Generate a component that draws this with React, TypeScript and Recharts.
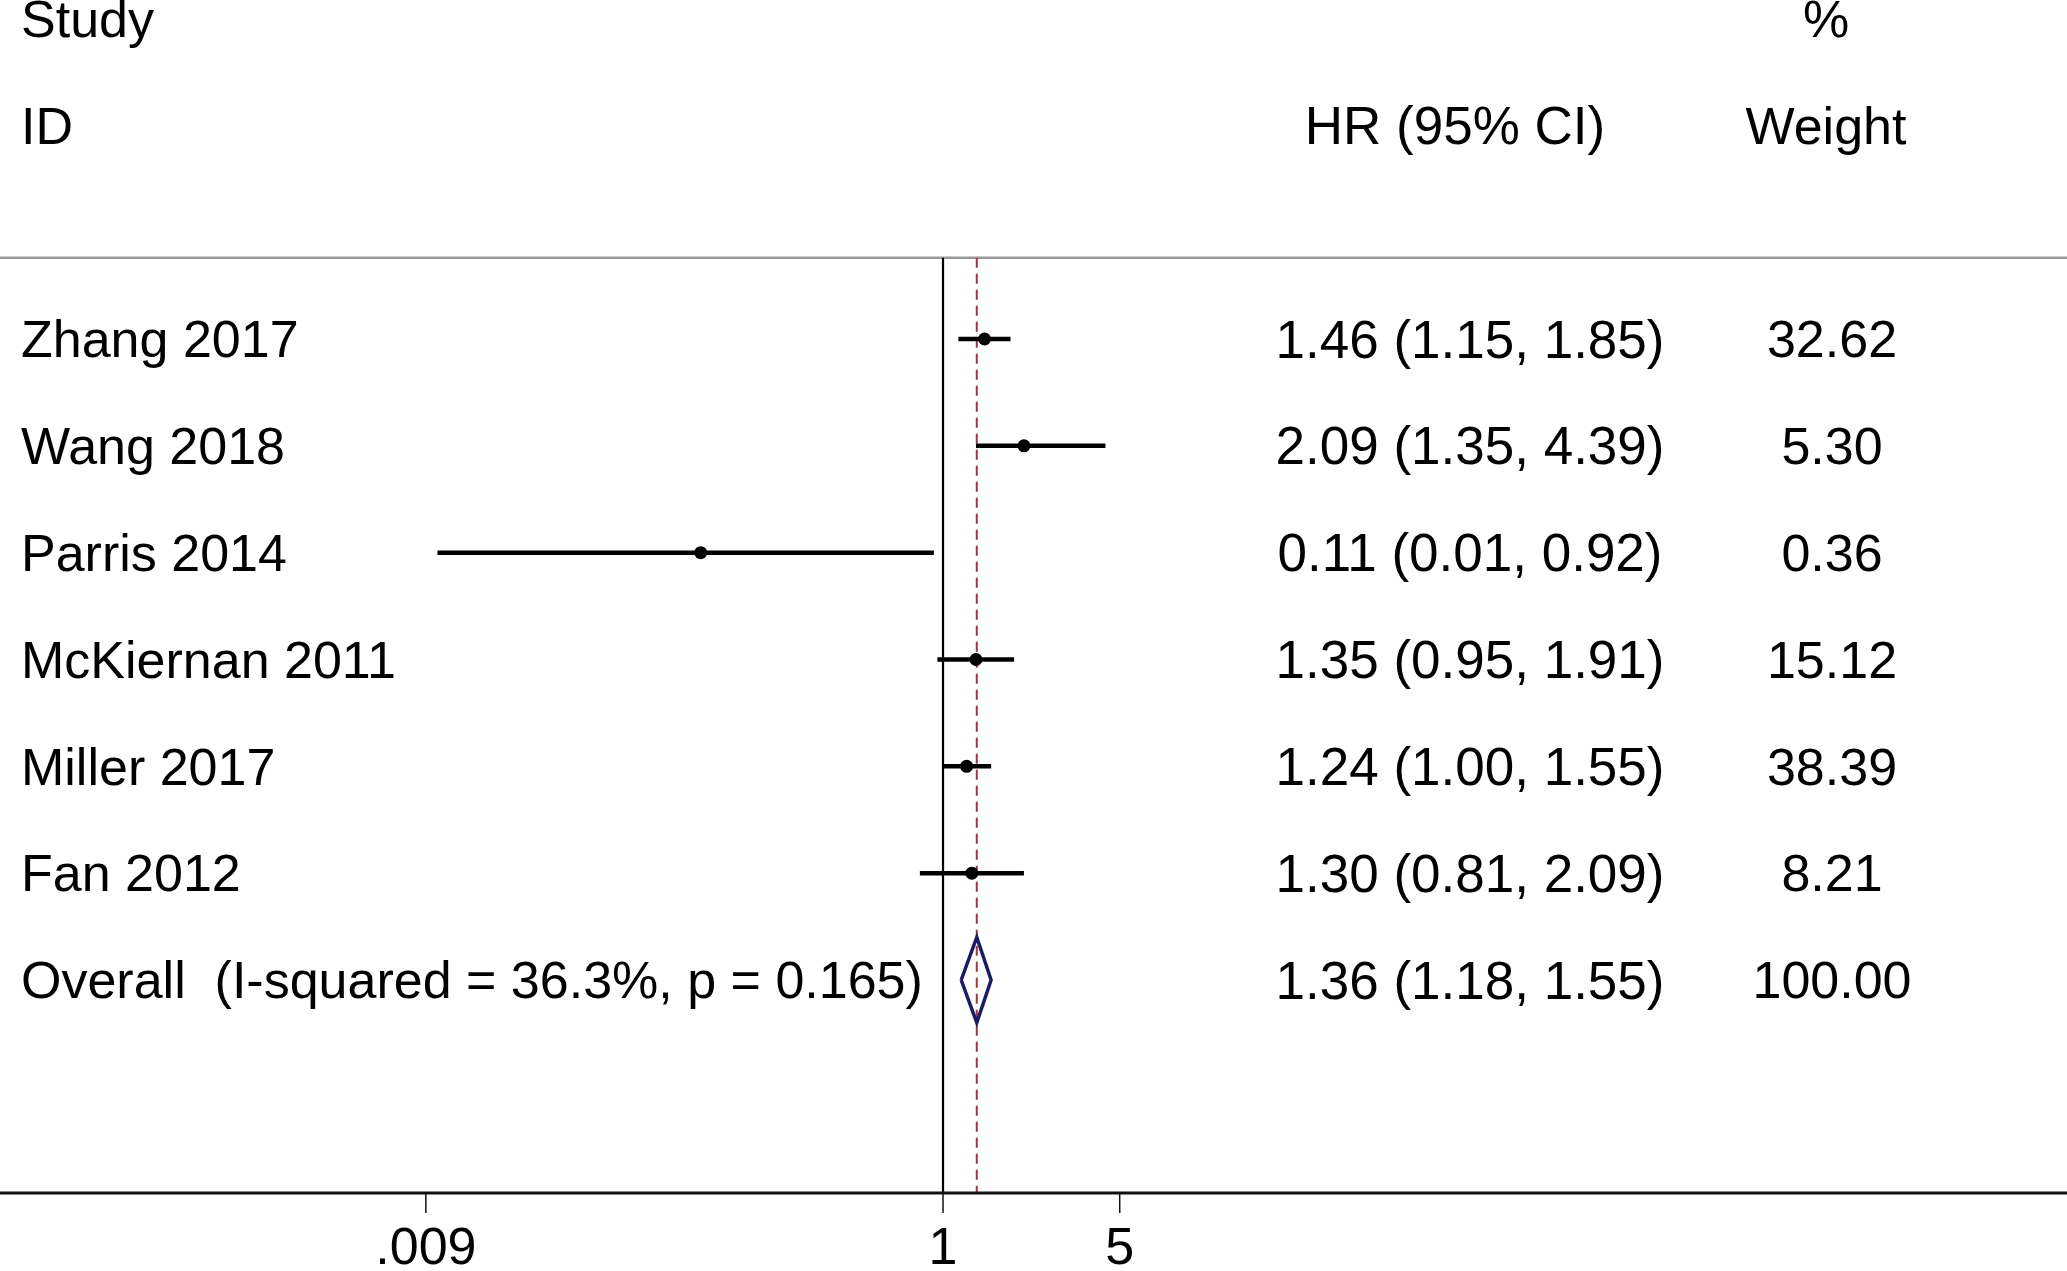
import React from 'react';
import {
  ComposedChart,
  ReferenceLine,
  Scatter,
  XAxis,
  YAxis,
} from 'recharts';

// Forest plot: hazard ratios of six studies plus the pooled estimate.
const STUDIES = ['Zhang 2017', 'Wang 2018', 'Parris 2014', 'McKiernan 2011', 'Miller 2017', 'Fan 2012'];
const HR = [1.46, 2.09, 0.11, 1.35, 1.24, 1.3];
const CI_LOW = [1.15, 1.35, 0.01, 0.95, 1.0, 0.81];
const CI_HIGH = [1.85, 4.39, 0.92, 1.91, 1.55, 2.09];
const WEIGHTS = ['32.62', '5.30', '0.36', '15.12', '38.39', '8.21'];

const OVERALL_LABEL = 'Overall  (I-squared = 36.3%, p = 0.165)';
const OVERALL_HR = 1.36;
const OVERALL_LOW = 1.18;
const OVERALL_HIGH = 1.55;
const OVERALL_WEIGHT = '100.00';

const X_TICKS = [0.009, 1, 5];
const X_TICK_LABELS = ['.009', '1', '5'];

const W = 2067;
const H = 1271;
const FONT = '"Liberation Sans", Arial, sans-serif';
const FS = 52;

// row index scale (0 = first study); header rows sit at -3 and -2
const ROW_MIN = -3.173;
const ROW_MAX = 7.994;
const RULE_ROW = -0.76;
const X_MIN = 0.000186;
const X_MAX = 27950;

const COL_STUDY = 21;
const COL_HR = 1470;
const COL_HR_HEAD = 1455;
const COL_WT = 1832;
const COL_WT_HEAD = 1826;

const fmt = (v: number) => v.toFixed(2);

const studyData = STUDIES.map((name, i) => ({ name, row: i, hr: HR[i] }));
const ciSegments = STUDIES.map((_, i) => [
  { hr: CI_LOW[i], row: i },
  { hr: CI_HIGH[i], row: i },
]);

const overallRow = STUDIES.length;
const diamondData = [
  { hr: OVERALL_LOW, row: overallRow },
  { hr: OVERALL_HR, row: overallRow - 0.4 },
  { hr: OVERALL_HIGH, row: overallRow },
  { hr: OVERALL_HR, row: overallRow + 0.4 },
  { hr: OVERALL_LOW, row: overallRow },
];

const rowTexts = (value: number) => {
  if (value === -3) return { left: 'Study', hr: '', wt: '%', hrX: COL_HR_HEAD, wtX: COL_WT_HEAD };
  if (value === -2) return { left: 'ID', hr: 'HR (95% CI)', wt: 'Weight', hrX: COL_HR_HEAD, wtX: COL_WT_HEAD };
  if (value === overallRow) {
    return {
      left: OVERALL_LABEL,
      hr: `${fmt(OVERALL_HR)} (${fmt(OVERALL_LOW)}, ${fmt(OVERALL_HIGH)})`,
      wt: OVERALL_WEIGHT,
      hrX: COL_HR,
      wtX: COL_WT,
    };
  }
  const i = Math.round(value);
  return {
    left: STUDIES[i] ?? '',
    hr: HR[i] !== undefined ? `${fmt(HR[i])} (${fmt(CI_LOW[i])}, ${fmt(CI_HIGH[i])})` : '',
    wt: WEIGHTS[i] ?? '',
    hrX: COL_HR,
    wtX: COL_WT,
  };
};

const renderRowTick = (props: any) => {
  const { y, payload } = props;
  const t = rowTexts(Number(payload.value));
  const common = { fontFamily: FONT, fontSize: FS, fill: '#000', dy: '0.35em', y };
  return (
    <g key={`row-${payload.value}`}>
      {t.left && (
        <text {...common} x={COL_STUDY} textAnchor="start" style={{ whiteSpace: 'pre' }}>
          {t.left}
        </text>
      )}
      {t.hr && (
        <text {...common} x={t.hrX} textAnchor="middle" fontSize={53}>
          {t.hr}
        </text>
      )}
      {t.wt && (
        <text {...common} x={t.wtX} textAnchor="middle">
          {t.wt}
        </text>
      )}
    </g>
  );
};

const rowTicks = [-3, -2, ...STUDIES.map((_, i) => i), overallRow];

export default function App() {
  return (
    <div style={{ position: 'absolute', left: 0, top: 0, width: W, height: H, background: '#fff' }}>
      <ComposedChart width={W} height={H} margin={{ top: 0, right: 0, bottom: 0, left: -2 }}>
        <XAxis
          dataKey="hr"
          type="number"
          scale="log"
          domain={[X_MIN, X_MAX]}
          allowDataOverflow
          ticks={X_TICKS}
          interval={0}
          tickFormatter={(v: number) => X_TICK_LABELS[X_TICKS.indexOf(v)] ?? String(v)}
          height={H - 1193}
          tickSize={20}
          tickMargin={14}
          axisLine={{ stroke: '#111', strokeWidth: 3 }}
          tickLine={{ stroke: '#111', strokeWidth: 1.5 }}
          tick={{ fontFamily: FONT, fontSize: FS, fill: '#000' }}
        />
        <YAxis
          dataKey="row"
          type="number"
          reversed
          domain={[ROW_MIN, ROW_MAX]}
          allowDataOverflow
          ticks={rowTicks}
          interval={0}
          width={2}
          axisLine={false}
          tickLine={false}
          tick={renderRowTick}
        />
        <ReferenceLine y={RULE_ROW} stroke="#9a9a9a" strokeWidth={2.5} />
        <ReferenceLine
          segment={[
            { x: 1, y: RULE_ROW },
            { x: 1, y: ROW_MAX },
          ]}
          stroke="#000"
          strokeWidth={2.2}
        />
        <ReferenceLine
          segment={[
            { x: OVERALL_HR, y: RULE_ROW },
            { x: OVERALL_HR, y: ROW_MAX },
          ]}
          stroke="#a8323e"
          strokeWidth={2}
          strokeDasharray="10 6"
        />
        {ciSegments.map((seg, i) => (
          <Scatter
            key={`ci-${i}`}
            data={seg}
            dataKey="row"
            isAnimationActive={false}
            line={{ stroke: '#000', strokeWidth: 4.5, fill: 'none' }}
            shape={() => <g />}
          />
        ))}
        <Scatter
          data={studyData}
          dataKey="row"
          isAnimationActive={false}
          shape={(p: any) => <circle cx={p.cx} cy={p.cy} r={6.5} fill="#000" />}
        />
        <Scatter
          data={diamondData}
          dataKey="row"
          isAnimationActive={false}
          line={{ stroke: '#1c1c66', strokeWidth: 3.5, fill: 'none' }}
          shape={() => <g />}
        />
      </ComposedChart>
    </div>
  );
}
